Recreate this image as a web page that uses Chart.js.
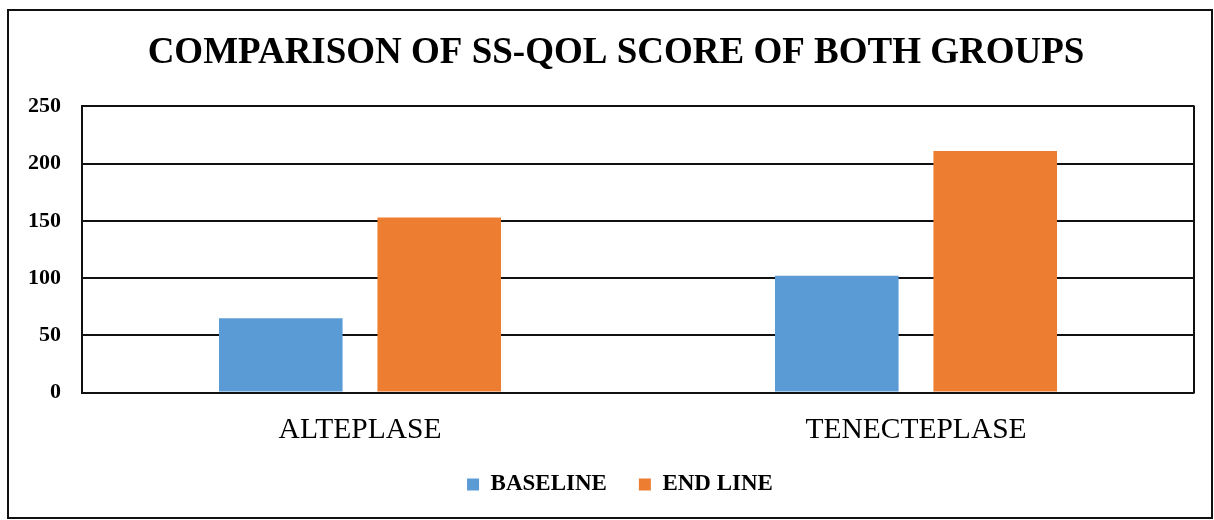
<!DOCTYPE html>
<html>
<head>
<meta charset="utf-8">
<script src="https://cdn.jsdelivr.net/npm/chart.js@4.4.0/dist/chart.umd.min.js"></script>
<style>
  body { margin: 0; background: #fff; }
  #wrap { position: relative; width: 1214px; height: 520px; }
</style>
</head>
<body>
<div id="wrap"><canvas id="myChart" width="1214" height="520"></canvas></div>
<script>
// Dữ liệu biểu đồ
const groups = ['ALTEPLASE', 'TENECTEPLASE'];
const baseline = [65, 102];
const endLine = [153, 211];
const yTicks = [0, 50, 100, 150, 200, 250];

const serif = '"Liberation Serif", "Times New Roman", serif';

// Khung ngoài và cạnh phải của vùng vẽ
const framePlugin = {
    id: 'frame',
    afterLayout(chart) {
        // kéo chú thích lên gần nhãn trục x, dịch tiêu đề và chú thích sang phải một chút
        const lg = chart.legend;
        if (lg) {
            lg.top -= 19;
            lg.bottom -= 19;
            lg.left += 10;
            lg.right += 10;
        }
        const tb = chart.titleBlock;
        if (tb) {
            tb.left += 6;
            tb.right += 6;
        }
    },
    afterDraw(chart) {
        const ctx = chart.ctx;
        const a = chart.chartArea;
        ctx.save();
        ctx.strokeStyle = '#111';
        ctx.lineWidth = 2;
        ctx.beginPath();
        ctx.moveTo(a.right, a.top - 1);
        ctx.lineTo(a.right, a.bottom + 1);
        ctx.stroke();
        ctx.strokeRect(8, 10, chart.width - 10, chart.height - 12);
        ctx.restore();
    }
};

const ctx = document.getElementById('myChart').getContext('2d');
new Chart(ctx, {
    type: 'bar',
    data: {
        labels: groups,
        datasets: [
            {
                label: 'BASELINE',
                data: baseline,
                backgroundColor: '#5B9BD5',
                categoryPercentage: 0.57,
                barPercentage: 0.78
            },
            {
                label: 'END LINE',
                data: endLine,
                backgroundColor: '#ED7D31',
                categoryPercentage: 0.57,
                barPercentage: 0.78
            }
        ]
    },
    options: {
        responsive: false,
        animation: false,
        layout: { padding: { top: 10, left: 26, right: 20, bottom: -5 } },
        plugins: {
            title: {
                display: true,
                text: 'COMPARISON OF SS-QOL SCORE OF BOTH GROUPS',
                color: '#000',
                font: { family: serif, size: 37, weight: 'bold' },
                padding: { top: 21, bottom: 31 }
            },
            legend: {
                position: 'bottom',
                labels: {
                    color: '#000',
                    font: { family: serif, size: 23, weight: 'bold' },
                    boxWidth: 12,
                    boxHeight: 12,
                    padding: 32
                }
            },
            tooltip: { enabled: false }
        },
        scales: {
            x: {
                grid: { display: false },
                border: { display: false },
                ticks: {
                    color: '#000',
                    font: { family: serif, size: 29.5 },
                    padding: 12
                }
            },
            y: {
                min: 0,
                max: 250,
                afterBuildTicks: scale => {
                    scale.ticks = yTicks.map(v => ({ value: v }));
                },
                afterFit: scale => { scale.width = 56; },
                grid: { color: '#111', lineWidth: 2, drawTicks: false },
                border: { display: true, color: '#111', width: 2 },
                ticks: {
                    color: '#000',
                    font: { family: serif, size: 22, weight: 'bold' },
                    padding: 21
                }
            }
        }
    },
    plugins: [framePlugin]
});
</script>
</body>
</html>
